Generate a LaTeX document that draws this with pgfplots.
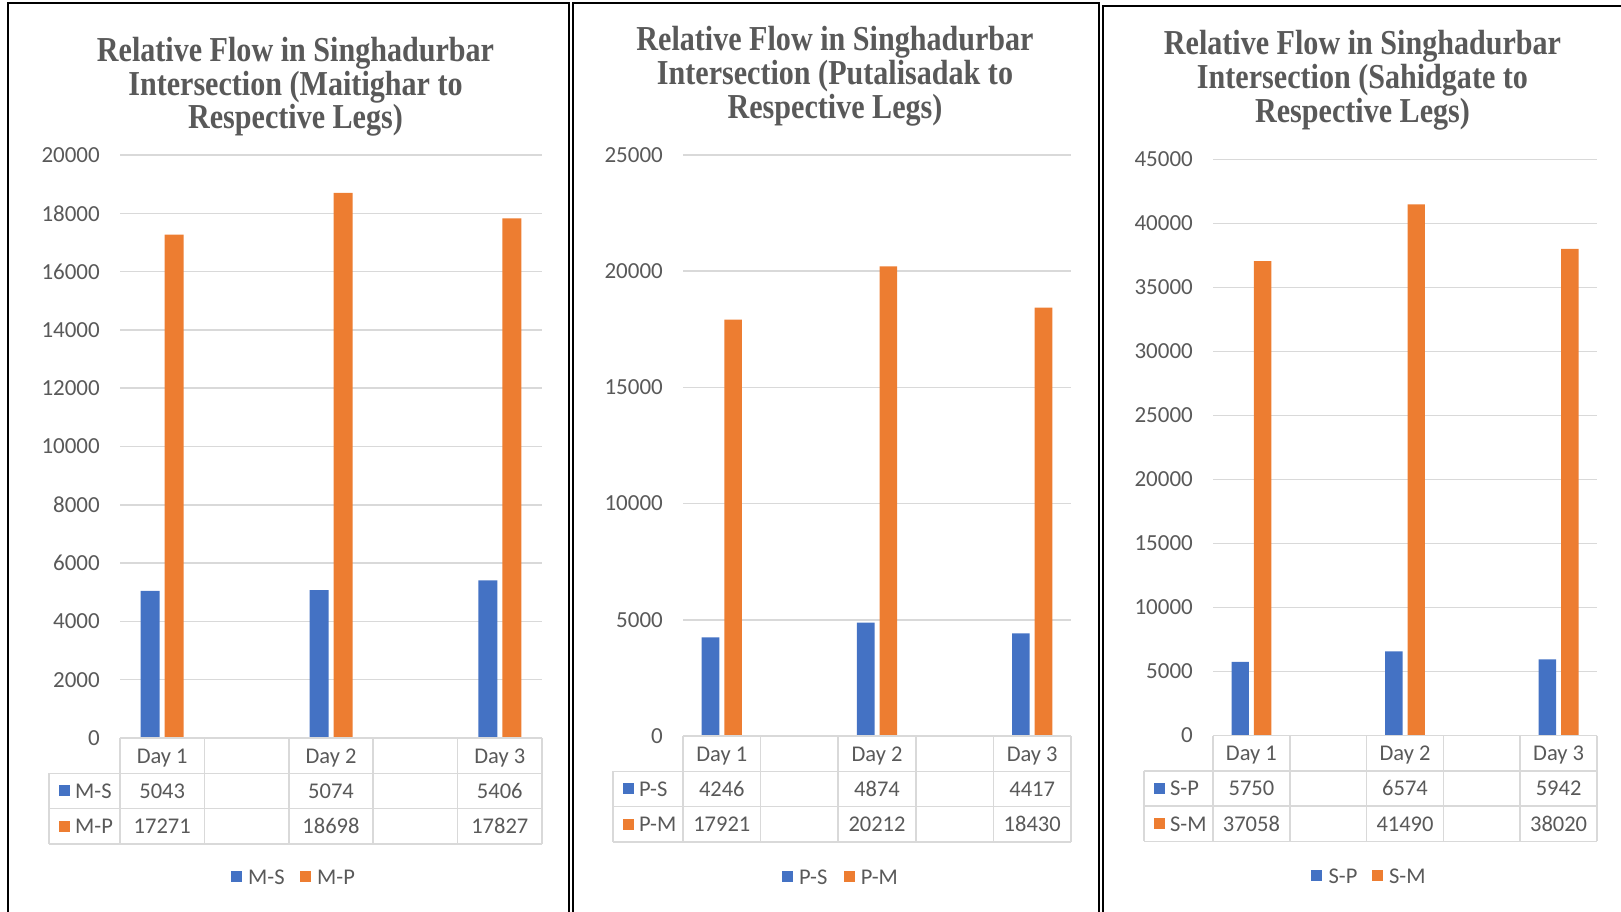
\documentclass[border=0pt]{standalone}
\usepackage{pgfplots}
\usepackage{pgfplotstable}
\pgfplotsset{compat=1.18}
\usepackage{fontspec}
\setmainfont{Carlito}
\newfontfamily\titlefont{Liberation Serif}[FakeStretch=0.86]

\definecolor{msblue}{HTML}{4472C4}
\definecolor{msorange}{HTML}{ED7D31}
\definecolor{gridgray}{HTML}{D9D9D9}
\definecolor{txtgray}{HTML}{595959}
\newcommand{\lbl}{\fontsize{23}{27}\selectfont}
\newcommand{\cell}{\fontsize{22.5}{27}\selectfont}
\newcommand{\ttl}{\titlefont\bfseries\fontsize{35}{34}\selectfont}

% flows per day (columns 0, 2, 4 of a five-column category axis)
\pgfplotstableread{
day s1 s2
0 5043 17271
2 5074 18698
4 5406 17827
}\maitighar
\pgfplotstableread{
day s1 s2
0 4246 17921
2 4874 20212
4 4417 18430
}\putalisadak
\pgfplotstableread{
day s1 s2
0 5750 37058
2 6574 41490
4 5942 38020
}\sahidgate

\pgfplotsset{
  panel/.style={
    scale only axis, anchor=south west,
    xmin=-0.5, xmax=4.5, ymin=0,
    axis line style={draw=none},
    major tick length=0pt,
    xtick=\empty,
    ymajorgrids,
    grid style={gridgray, line width=1.5pt},
    yticklabel style={font=\lbl, text=txtgray, inner sep=0pt, anchor=east, xshift=-20pt},
    /pgf/number format/assume math mode=true,
    /pgf/number format/1000 sep={},
    scaled y ticks=false,
    ybar=5pt,
  }
}

% data table under a chart: #1 table, #2 left edge, #3 plot left, #4 column width,
% #5 top, #6 row height, #7/#8 series names
\newcommand{\datatable}[8]{%
  \pgfmathsetmacro\tR{#3+5*#4}%
  \pgfmathsetmacro\rA{#5+#6}%
  \pgfmathsetmacro\rB{#5+2*#6}%
  \pgfmathsetmacro\rC{#5+3*#6}%
  \draw[gridgray,line width=1.5pt] (#3,#5) -- (\tR,#5) (#2,\rA) -- (\tR,\rA)
     (#2,\rB) -- (\tR,\rB) (#2,\rC) -- (\tR,\rC) (#2,\rA) -- (#2,\rC);
  \foreach \c in {0,...,5}{\draw[gridgray,line width=1.5pt] ({#3+\c*#4},#5) -- ({#3+\c*#4},\rC);}
  \foreach \r/\d in {0/1,1/2,2/3}{%
    \pgfmathsetmacro\cx{#3+(2*\r+0.5)*#4}%
    \node[anchor=base,text=txtgray,font=\cell,inner sep=0pt] at (\cx,{#5+0.5*#6+7.5}) {Day \d};
    \pgfplotstablegetelem{\r}{s1}\of#1%
    \node[anchor=base,text=txtgray,font=\cell,inner sep=0pt] at (\cx,{#5+1.5*#6+7.5}) {\pgfplotsretval};
    \pgfplotstablegetelem{\r}{s2}\of#1%
    \node[anchor=base,text=txtgray,font=\cell,inner sep=0pt] at (\cx,{#5+2.5*#6+7.5}) {\pgfplotsretval};
  }
  \fill[msblue] ({#2+9.5},{#5+1.5*#6-5.5}) rectangle ++(11,11);
  \node[anchor=base west,text=txtgray,font=\cell,inner sep=0pt] at ({#2+26},{#5+1.5*#6+7.5}) {#7};
  \fill[msorange] ({#2+9.5},{#5+2.5*#6-5.5}) rectangle ++(11,11);
  \node[anchor=base west,text=txtgray,font=\cell,inner sep=0pt] at ({#2+26},{#5+2.5*#6+7.5}) {#8};
}

% legend below a table: #1 y, #2 blue key x, #3 name, #4 orange key x, #5 name
\newcommand{\keys}[5]{%
  \fill[msblue] (#2,{#1-5.5}) rectangle ++(11,11);
  \node[anchor=base west,text=txtgray,font=\cell,inner sep=0pt] at ({#2+17.5},{#1+7.5}) {#3};
  \fill[msorange] (#4,{#1-5.5}) rectangle ++(11,11);
  \node[anchor=base west,text=txtgray,font=\cell,inner sep=0pt] at ({#4+17},{#1+7.5}) {#5};
}

\begin{document}
\begin{tikzpicture}

% Maitighar
\begin{axis}[panel, at={(120pt,173pt)}, width=422pt, height=583pt,
  ymax=20000, ytick={0,2000,...,20000}, bar width=19pt]
  \addplot[fill=msblue, draw=none] table[x=day,y=s1]{\maitighar};
  \addplot[fill=msorange, draw=none] table[x=day,y=s2]{\maitighar};
\end{axis}

% Putalisadak
\begin{axis}[panel, at={(683pt,175pt)}, width=388pt, height=581pt,
  ymax=25000, ytick={0,5000,...,25000}, bar width=17.6pt]
  \addplot[fill=msblue, draw=none] table[x=day,y=s1]{\putalisadak};
  \addplot[fill=msorange, draw=none] table[x=day,y=s2]{\putalisadak};
\end{axis}

% Sahidgate
\begin{axis}[panel, at={(1213pt,175.5pt)}, width=384pt, height=576pt,
  ymax=45000, ytick={0,5000,...,45000}, bar width=17.4pt]
  \addplot[fill=msblue, draw=none] table[x=day,y=s1]{\sahidgate};
  \addplot[fill=msorange, draw=none] table[x=day,y=s2]{\sahidgate};
\end{axis}

\begin{scope}[x=1pt, y=-1pt, shift={(0pt,911pt)}]
  \path[use as bounding box] (0,0) rectangle (1621,911);

  % titles
  \node[anchor=base,text=txtgray,font=\ttl,inner sep=0pt] at (295.5,61.5) {Relative Flow in Singhadurbar};
  \node[anchor=base,text=txtgray,font=\ttl,inner sep=0pt] at (295.5,95.5) {Intersection (Maitighar to};
  \node[anchor=base,text=txtgray,font=\ttl,inner sep=0pt] at (295.5,129) {Respective Legs)};

  \node[anchor=base,text=txtgray,font=\ttl,inner sep=0pt] at (835,51) {Relative Flow in Singhadurbar};
  \node[anchor=base,text=txtgray,font=\ttl,inner sep=0pt] at (835,85) {Intersection (Putalisadak to};
  \node[anchor=base,text=txtgray,font=\ttl,inner sep=0pt] at (835,118.5) {Respective Legs)};

  \node[anchor=base,text=txtgray,font=\ttl,inner sep=0pt] at (1362.5,55) {Relative Flow in Singhadurbar};
  \node[anchor=base,text=txtgray,font=\ttl,inner sep=0pt] at (1362.5,89) {Intersection (Sahidgate to};
  \node[anchor=base,text=txtgray,font=\ttl,inner sep=0pt] at (1362.5,122.5) {Respective Legs)};

  % tables
  \datatable{\maitighar}{49}{120}{84.4}{738}{35.3}{M-S}{M-P}
  \datatable{\putalisadak}{613}{683}{77.6}{736}{35.3}{P-S}{P-M}
  \datatable{\sahidgate}{1144}{1213}{76.8}{735.5}{35.3}{S-P}{S-M}

  % legends
  \keys{876.7}{230.5}{M-S}{300}{M-P}
  \keys{876.7}{781.5}{P-S}{843.6}{P-M}
  \keys{875.6}{1311}{S-P}{1372}{S-M}

  % panel frames
  \draw[black, line width=2pt] (8,915) -- (8,3) -- (568.5,3) -- (568.5,915);
  \draw[black, line width=2pt] (572.5,915) -- (572.5,3) -- (1099,3) -- (1099,915);
  \draw[black, line width=2pt] (1102.5,915) -- (1102.5,6) -- (1625,6);
\end{scope}
\end{tikzpicture}
\end{document}
